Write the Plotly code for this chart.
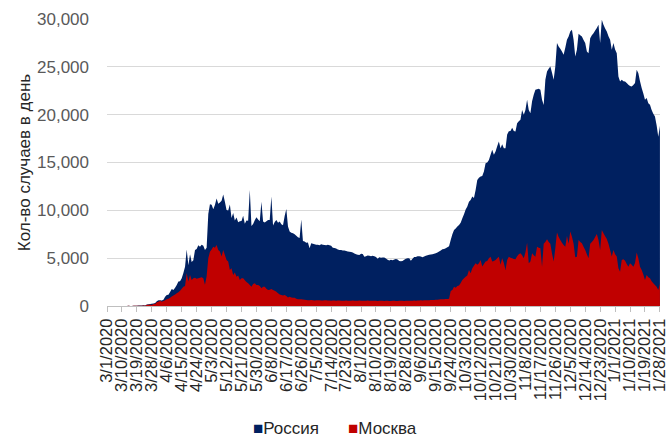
import pandas as pd
import plotly.graph_objects as go

# ---- data: daily new cases, 3/1/2020 .. 1/28/2021 ----
start_date = "2020-03-01"

russia_mar = [0,0,1,0,1,4,4,0,3,3,2,6,0,25,4,4,30,33,24,52,53,54,71,57,163,182,196,228,270,302,500]
russia_apr = [601,601,582,658,954,1154,1175,1459,1786,1667,1900,2186,2558,2600,2900,3450,4100,5900,4268,5400,4600,4774,5849,5966,6361,6198,6411,6300,5841,6100]
russia_may = [9623,10633,10581,10102,10559,11231,10699,10817,11012,11656,10899,10028,9974,10598,9200,9709,8926,9263,8764,8849,8894,9434,8599,8946,8915,12130,8371,8572,8952,9268,9035]
russia_jun = [8863,10910,8831,8726,8855,8984,8985,11440,8404,8779,8987,8706,8835,8546,8448,9400,10150,8300,7790,7650,7600,7500,7350,7176,7113,9050,6800,6750,6600,6650]
russia_jul = [6040,6560,6500,6450,6400,6400,6350,6450,6400,6380,6350,6400,6350,6300,6100,6050,6000,5900,5850,5850,5800,5800,5750,5700,5680,5650,5600,5500,5400,5350,5330]
russia_aug = [5462,5427,5159,5204,5267,5241,5212,5241,5189,5118,4945,5102,5041,5061,5065,4969,4839,4748,4828,4785,4870,4921,4852,4696,4676,4711,4829,4941,4980,4993,4729]
russia_sep = [4952,5110,5130,5205,5195,5185,5099,5170,5250,5310,5363,5380,5406,5449,5509,5600,5690,5800,5930,5960,6040,6150,6250,6900,7500,7950,8100,8300,8470,8700]
russia_oct = [9170,9600,10100,10390,10900,11090,11440,11300,12130,13180,13400,13530,13600,14050,14930,15000,15270,15800,16320,15800,16150,16700,17190,16500,16900,16500,16500,17920,18270,18300,18620]
russia_nov = [18300,18240,19110,19300,19460,20500,20000,20500,21550,20500,20150,21400,22070,22600,22650,22700,22600,21550,21000,23640,24510,24800,25040,24370,23640,25040,27480,27130,26900,26610]
russia_dec = [26260,27000,27830,28180,28700,28870,27830,26090,26780,28450,28300,28180,27800,27480,26610,26430,28000,28300,28520,28800,29050,29400,27480,29920,29400,29000,28700,28200,27830,26780,27480]
russia_jan = [26800,26430,23990,23470,23640,23500,23470,23300,23120,23000,22950,23100,23300,24690,24340,23500,22780,22200,21550,21730,21200,21030,20500,20100,19810,18900,17700,18830]

moscow_mar = [0,0,1,0,0,1,2,0,2,2,1,4,0,17,3,2,20,20,15,33,33,27,54,28,120,136,157,114,197,212,387]
moscow_apr = [450,550,450,530,600,700,750,850,1000,1100,1200,1330,1450,1600,1800,2000,2100,3420,2550,3240,2720,2900,2950,2850,2900,2950,3000,2900,2220,3100]
moscow_may = [5000,5680,5900,6200,6100,6380,5860,5700,5170,5860,5340,4800,4640,3770,3940,3240,3500,3070,3200,2720,2900,2900,2700,2500,2370,2200,2020,2300,2370,2200,2200]
moscow_jun = [2100,1850,2000,2020,1800,1670,1700,1780,1670,1600,1500,1330,1200,1150,1100,1150,1050,900,970,900,870,850,750,700,700,700,680,650,620,600]
moscow_jul = [600,620,590,580,600,610,590,580,570,600,590,580,570,560,580,570,560,580,570,560,550,560,570,560,550,560,570,560,550,560,570]
moscow_aug = [560,550,540,560,570,550,540,560,550,540,530,550,560,540,530,550,540,530,520,540,550,530,520,540,550,540,530,550,560,550,540]
moscow_sep = [560,570,560,580,570,590,580,600,590,610,600,620,630,640,650,650,680,700,700,710,720,730,750,1560,1670,2020,1900,2100,2130,2400]
moscow_oct = [2720,2900,3070,3200,3770,3420,3950,4200,4470,4300,4470,4800,4120,4400,4640,4700,4990,5160,4640,4700,4800,5000,5160,4300,4990,4500,3770,4800,5160,5050,4990]
moscow_nov = [4900,4880,5200,5400,5510,5300,4990,5600,6620,4470,4640,5510,5300,5160,6200,6100,6040,4110,6500,6700,6970,6700,6500,5500,4640,6040,7670,7200,6900,6600]
moscow_dec = [6380,6200,7320,6500,7780,7250,6500,5090,5160,6900,6700,6550,6200,5860,5400,4990,6500,6700,6900,7200,7530,6900,5860,7950,7600,7300,7000,6500,5860,5170,5860]
moscow_jan = [5400,5170,3940,3590,4810,4880,4740,4400,4110,4460,4300,4110,4500,5580,5000,4110,3770,3300,2720,3240,3000,2900,2600,2370,2200,2020,1670,2300]

tick_labels = ["3/1/2020","3/10/2020","3/19/2020","3/28/2020","4/6/2020","4/15/2020","4/24/2020",
               "5/3/2020","5/12/2020","5/21/2020","5/30/2020","6/8/2020","6/17/2020","6/26/2020",
               "7/5/2020","7/14/2020","7/23/2020","8/1/2020","8/10/2020","8/19/2020","8/28/2020",
               "9/6/2020","9/15/2020","9/24/2020","10/3/2020","10/12/2020","10/21/2020","10/30/2020",
               "11/8/2020","11/17/2020","11/26/2020","12/5/2020","12/14/2020","12/23/2020",
               "1/1/2021","1/10/2021","1/19/2021","1/28/2021"]
y_ticks = [0, 5000, 10000, 15000, 20000, 25000, 30000]

series_names = ["Россия", "Москва"]
y_title = "Кол-во случаев в день"

russia = (russia_mar + russia_apr + russia_may + russia_jun + russia_jul + russia_aug +
          russia_sep + russia_oct + russia_nov + russia_dec + russia_jan)
moscow = (moscow_mar + moscow_apr + moscow_may + moscow_jun + moscow_jul + moscow_aug +
          moscow_sep + moscow_oct + moscow_nov + moscow_dec + moscow_jan)

dates = pd.date_range(start_date, periods=len(russia), freq="D")
tick_vals = list(dates[::9])

NAVY = "#002060"
RED = "#C00000"
FONT = "Liberation Sans"

fig = go.Figure()
fig.add_trace(go.Scatter(x=dates, y=russia, mode="none", fill="tozeroy",
                         fillcolor=NAVY, name=series_names[0], showlegend=False,
                         hoverinfo="x+y"))
fig.add_trace(go.Scatter(x=dates, y=moscow[:len(dates)], mode="none", fill="tozeroy",
                         fillcolor=RED, name=series_names[1], showlegend=False,
                         hoverinfo="x+y"))
# legend entries: coloured square glyph right before the name
for nm, col in zip(series_names, [NAVY, RED]):
    fig.add_trace(go.Scatter(x=[None], y=[None], mode="markers",
                             name=f'<span style="color:{col}">■</span>{nm}',
                             marker=dict(symbol="square", size=1, color="rgba(0,0,0,0)")))
# empty trailing legend slot so the last entry is not clipped
fig.add_trace(go.Scatter(x=[None], y=[None], mode="markers", name=" ",
                         marker=dict(size=1, color="rgba(0,0,0,0)")))

fig.update_layout(
    width=668, height=437,
    margin=dict(l=107, r=8, t=19, b=131),
    paper_bgcolor="white", plot_bgcolor="white",
    font=dict(family=FONT, size=17, color="#262626"),
    showlegend=True,
    legend=dict(orientation="h", xref="container", yref="container",
                x=(258 - 45) / 668, xanchor="left", y=0.02, yanchor="middle",
                font=dict(size=17, color="#262626"), itemwidth=30, entrywidth=50,
                tracegroupgap=0, bgcolor="rgba(0,0,0,0)", itemclick=False,
                itemdoubleclick=False),
)
fig.update_xaxes(
    type="date",
    range=[dates[0], dates[-1] + pd.Timedelta(hours=1)],
    tickmode="array", tickvals=tick_vals, ticktext=tick_labels,
    tickangle=-90, tickfont=dict(size=16.5, color="#262626", family=FONT),
    ticks="outside", ticklen=5, tickcolor="#BFBFBF", tickwidth=1,
    ticklabeloverflow="allow",
    showline=True, linecolor="#BFBFBF", linewidth=1,
    showgrid=False, zeroline=False, automargin=False,
)
fig.update_yaxes(
    range=[0, 30000], tickmode="array", tickvals=y_ticks, tickformat=",",
    tickfont=dict(size=17, color="#595959", family=FONT),
    ticklabelstandoff=17,
    showgrid=True, gridcolor="#D9D9D9", gridwidth=1,
    showline=False, zeroline=False, automargin=False,
    title=dict(text=y_title, font=dict(size=17, color="#262626", family=FONT), standoff=2),
)

fig.write_html("out.html", config={"displayModeBar": False},
               post_script="document.body.style.margin='0';document.body.style.overflow='hidden';")
